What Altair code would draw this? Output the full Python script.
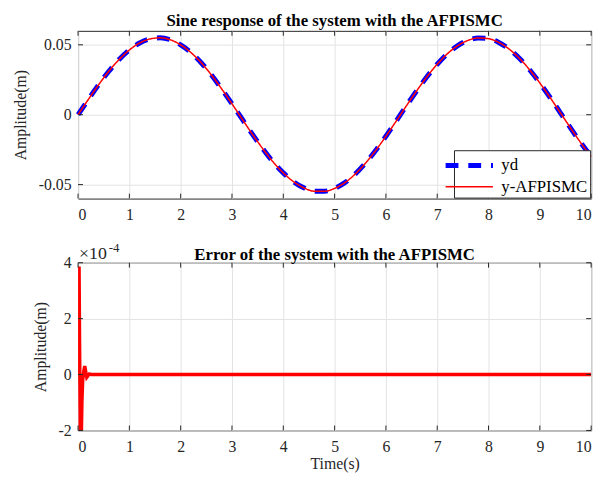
import altair as alt
import pandas as pd

FONT = "Liberation Serif"
INK = "#262626"

# ---- data ----
t_vals = [round(0.2 * i, 1) for i in range(51)]
yd_vals = [0.0, 0.0109, 0.0214, 0.0311, 0.0395, 0.0463, 0.0513, 0.0542, 0.0550, 0.0536,
           0.0500, 0.0445, 0.0372, 0.0284, 0.0184, 0.0078, -0.0032, -0.0141, -0.0243, -0.0337,
           -0.0416, -0.0479, -0.0523, -0.0547, -0.0548, -0.0527, -0.0486, -0.0425, -0.0347, -0.0256,
           -0.0154, -0.0046, 0.0064, 0.0171, 0.0272, 0.0361, 0.0437, 0.0494, 0.0532, 0.0549,
           0.0544, 0.0517, 0.0470, 0.0404, 0.0322, 0.0227, 0.0123, 0.0014, -0.0096, -0.0202,
           -0.0299]
y_vals = [0.0, 0.0109, 0.0214, 0.0311, 0.0395, 0.0463, 0.0513, 0.0542, 0.0550, 0.0536,
          0.0500, 0.0445, 0.0372, 0.0284, 0.0184, 0.0078, -0.0032, -0.0141, -0.0243, -0.0337,
          -0.0416, -0.0479, -0.0523, -0.0547, -0.0548, -0.0527, -0.0486, -0.0425, -0.0347, -0.0256,
          -0.0154, -0.0046, 0.0064, 0.0171, 0.0272, 0.0361, 0.0437, 0.0494, 0.0532, 0.0549,
          0.0544, 0.0517, 0.0470, 0.0404, 0.0322, 0.0227, 0.0123, 0.0014, -0.0096, -0.0202,
          -0.0299]
series_names = ["yd", "y-AFPISMC"]

x_ticks = [0, 1, 2, 3, 4, 5, 6, 7, 8, 9, 10]
top_y_ticks = [-0.05, 0, 0.05]
err_y_ticks = [-2, 0, 2, 4]

err_t = [0, 0.01, 0.02, 0.03, 0.045, 0.06, 0.075, 0.09, 0.11, 0.13, 0.15, 0.17, 0.19, 0.22, 0.26, 0.3, 10]
err_v = [0, 3.8, 3.8, 1.0, -2.6, -2.6, -1.0, -0.2, 0.1, 0.3, 0.1, -0.1, -0.05, 0.02, 0, 0, 0]  # x 1e-4

top_df = pd.concat([
    pd.DataFrame({"t": t_vals, "v": yd_vals, "series": series_names[0]}),
    pd.DataFrame({"t": t_vals, "v": y_vals, "series": series_names[1]}),
])
err_df = pd.DataFrame({"t": err_t, "v": err_v})

W, H = 520, 170
TL = 5  # inward tick length


def label_axis(orient, values, title, title_pad, expr=None):
    kw = dict(orient=orient, values=values, grid=True, domain=False, ticks=False, tickSize=0,
              title=title, labelPadding=8 if orient == "bottom" else 7)
    if title is not None:
        kw.update(titlePadding=title_pad)
    if expr:
        kw.update(labelExpr=expr)
    return alt.Axis(**kw)


def inward_ticks(xs, ys, xa, ya, yt):
    """MATLAB-style inward tick marks on all four sides, placed through the scales."""
    xdf = pd.DataFrame({"t": x_ticks})
    ydf = pd.DataFrame({"v": yt})
    base_x = alt.Chart(xdf).mark_rule(color=INK, strokeWidth=1)
    base_y = alt.Chart(ydf).mark_rule(color=INK, strokeWidth=1)
    return [
        base_x.encode(x=alt.X("t:Q", scale=xs, axis=xa), y=alt.value(H - TL), y2=alt.value(H)),
        base_x.encode(x=alt.X("t:Q", scale=xs, axis=xa), y=alt.value(0), y2=alt.value(TL)),
        base_y.encode(y=alt.Y("v:Q", scale=ys, axis=ya), x=alt.value(0), x2=alt.value(TL)),
        base_y.encode(y=alt.Y("v:Q", scale=ys, axis=ya), x=alt.value(W - TL), x2=alt.value(W)),
    ]


color_s = alt.Scale(domain=series_names, range=["#0000ff", "#ff0000"])
dash_s = alt.Scale(domain=series_names, range=[[13, 10], [1, 0]])
width_s = alt.Scale(domain=series_names, range=[5, 1.5])
leg = alt.Legend(title=None)

top_expr = ("datum.value == 0 ? '0' : (datum.value < 0 ? '-' + format(-datum.value, '.2f') "
            ": format(datum.value, '.2f'))")
err_expr = "datum.value < 0 ? '-' + (-datum.value) : '' + datum.value"

# ---- top panel ----
top_xs = alt.Scale(domain=[0, 10], nice=False)
top_ys = alt.Scale(domain=[-0.06, 0.06], nice=False)
top_xa = label_axis("bottom", x_ticks, None, 0)
top_ya = label_axis("left", top_y_ticks, "Amplitude(m)", 10, top_expr)


def top_layer(name):
    return alt.Chart(top_df).transform_filter(alt.datum.series == name).mark_line(
        interpolate="monotone"
    ).encode(
        x=alt.X("t:Q", scale=top_xs, axis=top_xa),
        y=alt.Y("v:Q", scale=top_ys, axis=top_ya),
        color=alt.Color("series:N", scale=color_s, legend=leg),
        strokeDash=alt.StrokeDash("series:N", scale=dash_s, legend=leg),
        strokeWidth=alt.StrokeWidth("series:N", scale=width_s, legend=leg),
    )


top = alt.layer(
    top_layer("yd"), top_layer("y-AFPISMC"),
    *inward_ticks(top_xs, top_ys, top_xa, top_ya, top_y_ticks),
).properties(
    width=W, height=H,
    title=alt.Title("Sine response of the system with the AFPISMC", offset=-2),
)

# ---- bottom panel ----
err_xs = alt.Scale(domain=[0, 10], nice=False)
err_ys = alt.Scale(domain=[-2, 4], nice=False)
err_xa = label_axis("bottom", x_ticks, "Time(s)", 2)
err_ya = label_axis("left", err_y_ticks, "Amplitude(m)", 10, err_expr)

err_line = alt.Chart(err_df).mark_line(color="#ff0000", strokeWidth=3.5, clip=True).encode(
    x=alt.X("t:Q", scale=err_xs, axis=err_xa),
    y=alt.Y("v:Q", scale=err_ys, axis=err_ya),
)
exp_base = alt.Chart(pd.DataFrame({"a": [0]})).mark_text(
    font=FONT, fontSize=18, align="left", baseline="alphabetic", color=INK
).encode(x=alt.value(1), y=alt.value(-4), text=alt.value("×10"))
exp_sup = alt.Chart(pd.DataFrame({"a": [0]})).mark_text(
    font=FONT, fontSize=13, align="left", baseline="alphabetic", color=INK
).encode(x=alt.value(31), y=alt.value(-11), text=alt.value("-4"))

bottom = alt.layer(
    err_line, *inward_ticks(err_xs, err_ys, err_xa, err_ya, err_y_ticks), exp_base, exp_sup
).properties(
    width=W, height=H,
    title=alt.Title("Error of the system with the AFPISMC", offset=0, dy=22),
)

chart = alt.vconcat(top, bottom, spacing=18).resolve_scale(
    color="independent", strokeDash="independent", strokeWidth="independent"
).resolve_legend(
    color="independent", strokeDash="independent", strokeWidth="independent"
).properties(
    padding={"left": 4, "top": 0, "right": 0, "bottom": 0}
).configure_view(
    stroke=INK, strokeWidth=1
).configure_axis(
    labelFont=FONT, labelFontSize=16, labelColor=INK,
    titleFont=FONT, titleFontSize=16, titleFontWeight="normal", titleColor=INK,
    gridColor="#e3e3e3", gridWidth=1,
).configure_title(
    font=FONT, fontSize=17, fontWeight="bold", color="#000000", anchor="middle"
).configure_legend(
    orient="bottom-right", offset=1, fillColor="white", strokeColor=INK,
    padding=3, labelFont=FONT, labelFontSize=17, labelColor="#000000",
    symbolType="M-2.4,0H2.4", symbolSize=400, rowPadding=0, labelOffset=20,
    labelLimit=200, symbolOpacity=1,
)

chart.save("out.html", embed_options={"renderer": "svg", "actions": False})
